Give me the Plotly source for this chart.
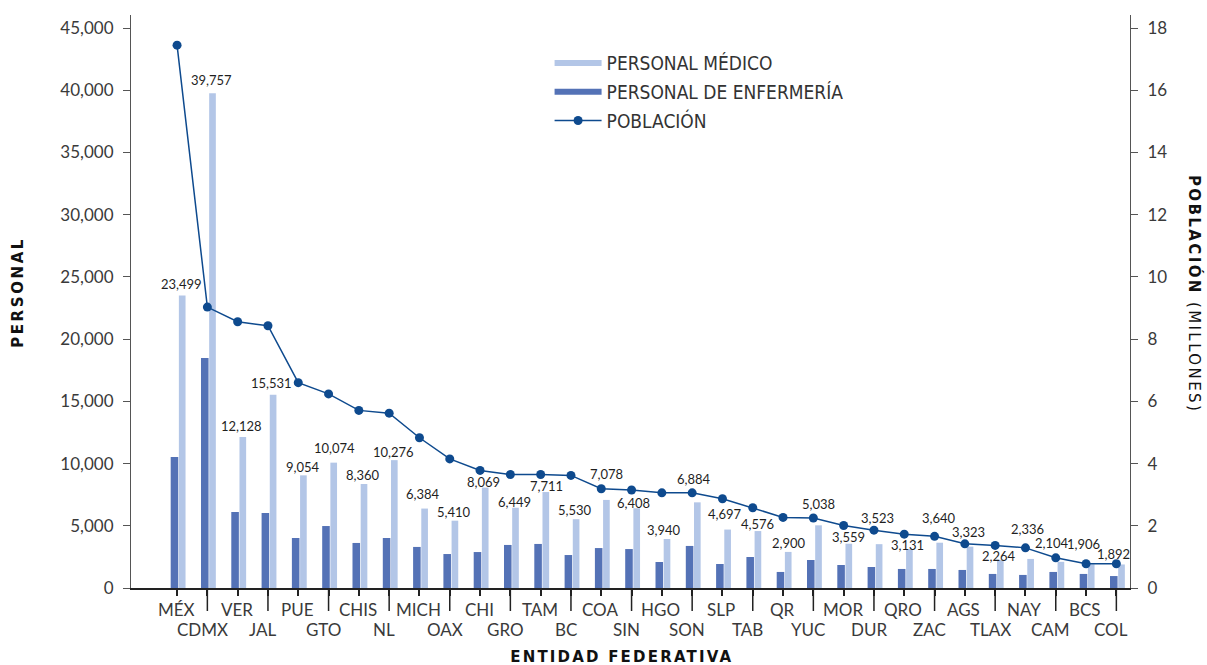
import plotly.graph_objects as go

# ---------------- data ----------------
estados = ["MÉX", "CDMX", "VER", "JAL", "PUE", "GTO", "CHIS", "NL", "MICH", "OAX",
           "CHI", "GRO", "TAM", "BC", "COA", "SIN", "HGO", "SON", "SLP", "TAB",
           "QR", "YUC", "MOR", "DUR", "QRO", "ZAC", "AGS", "TLAX", "NAY", "CAM",
           "BCS", "COL"]

personal_medico = [23499, 39757, 12128, 15531, 9054, 10074, 8360, 10276, 6384, 5410,
                   8069, 6449, 7711, 5530, 7078, 6408, 3940, 6884, 4697, 4576,
                   2900, 5038, 3559, 3523, 3131, 3640, 3323, 2264, 2336, 2104,
                   1906, 1892]

personal_enfermeria = [10530, 18480, 6110, 6030, 4020, 4980, 3620, 4020, 3300, 2730,
                       2890, 3460, 3540, 2650, 3210, 3130, 2090, 3380, 1930, 2490,
                       1290, 2250, 1850, 1690, 1530, 1530, 1450, 1130, 1050, 1290,
                       1130, 960]

poblacion_millones = [17.45, 9.03, 8.56, 8.43, 6.60, 6.24, 5.71, 5.62, 4.83, 4.15,
                      3.78, 3.65, 3.65, 3.62, 3.19, 3.15, 3.06, 3.06, 2.87, 2.58,
                      2.27, 2.25, 2.01, 1.86, 1.73, 1.66, 1.42, 1.37, 1.29, 0.97,
                      0.78, 0.78]

y_left_ticks = [0, 5000, 10000, 15000, 20000, 25000, 30000, 35000, 40000, 45000]
y_right_ticks = [0, 2, 4, 6, 8, 10, 12, 14, 16, 18]

# ---------------- style ----------------
C_LIGHT = "#B3C6E7"
C_DARK = "#5472B6"
C_LINE = "#0E4A8E"
C_TEXT = "#3a3a3a"
FONT = "Lato, 'Open Sans', sans-serif"
FONT_BOLD = "'DejaVu Sans', Lato, sans-serif"
PLOT_H = 573  # plot-area height in px (used for paper-relative offsets)

# label placement tweaks (pixels): vertical offset above bar top, horizontal nudge
label_dy = [11.6, 13, 11, 11.7, 8.6, 15, 8.7, 8.4, 14.6, 9,
            5.6, 5.7, 6.3, 9.2, 26, 5.6, 9, 23.6, 15.6, 7,
            8.6, 21, 6.4, 26.5, 4.3, 24.4, 14.6, 4.1, 29.6, 19,
            20, 10.5]
label_dx = [-0.4, -0.5, -1.5, -1.7, -0.3, 0.5, -0.7, -0.7, -1.8, -1,
            -1.7, -0.9, 0.7, -1.3, 0, -3.5, -3, -3.3, -2, 0.2,
            1, 0, 0, -1, -1.5, -0.3, -1, -1, -3, -9,
            -7.7, -8.3]

fig = go.Figure()

fig.add_trace(go.Bar(
    x=estados, y=personal_enfermeria, name="PERSONAL DE ENFERMERÍA",
    marker=dict(color=C_DARK, line=dict(width=0)),
    offset=-0.21, width=0.25, showlegend=False, hoverinfo="skip"))
fig.add_trace(go.Bar(
    x=estados, y=personal_medico, name="PERSONAL MÉDICO",
    marker=dict(color=C_LIGHT, line=dict(width=0)),
    offset=0.06, width=0.22, showlegend=False, hoverinfo="skip"))

# legend-only entries mimicking the wide flat swatches
fig.add_trace(go.Scatter(x=[None], y=[None], mode="lines", name="PERSONAL MÉDICO",
                         line=dict(color=C_LIGHT, width=6), legendgroup="a"))
fig.add_trace(go.Scatter(x=[None], y=[None], mode="lines", name="PERSONAL DE ENFERMERÍA",
                         line=dict(color=C_DARK, width=6), legendgroup="b"))

fig.add_trace(go.Scatter(
    x=estados, y=poblacion_millones, name="POBLACIÓN", yaxis="y2",
    mode="lines+markers", line=dict(color=C_LINE, width=1.5),
    marker=dict(color=C_LINE, size=9), legendgroup="c", hoverinfo="skip"))

annotations = []
for i, (e, v) in enumerate(zip(estados, personal_medico)):
    annotations.append(dict(
        x=e, y=v, xref="x", yref="y", text=f"{v:,}", showarrow=False,
        xanchor="center", yanchor="middle", xshift=5 + label_dx[i], yshift=label_dy[i],
        font=dict(family=FONT, size=13, color="#1f1f1f")))

# staggered category labels (upper row: even, lower row: odd)
for i, e in enumerate(estados):
    lower = i % 2 == 1
    annotations.append(dict(
        x=e, y=-(41 if lower else 21) / PLOT_H, xref="x", yref="paper", text=e,
        showarrow=False, xanchor="center", yanchor="middle",
        xshift=-5 if lower else -1,
        font=dict(family=FONT, size=17, color=C_TEXT)))

# axis titles
annotations.append(dict(x=-0.113, y=0.516, xref="paper", yref="paper", text="<b>PERSONAL</b>",
                        textangle=-90, showarrow=False, xanchor="center", yanchor="middle",
                        font=dict(family=FONT_BOLD, size=15, color="#111")))
annotations.append(dict(x=1.0646, y=0.514, xref="paper", yref="paper",
                        text="<b>POBLACIÓN</b> (MILLONES)", textangle=90, showarrow=False,
                        xanchor="center", yanchor="middle",
                        font=dict(family=FONT_BOLD, size=15, color="#111")))
annotations.append(dict(x=0.4915, y=-0.1204, xref="paper", yref="paper",
                        text="<b>ENTIDAD FEDERATIVA</b>", showarrow=False,
                        xanchor="center", yanchor="middle",
                        font=dict(family=FONT_BOLD, size=15, color="#111")))

# long ticks separating staggered labels
shapes = []
for i, e in enumerate(estados):
    if i % 2 == 1:
        shapes.append(dict(type="line", xref="x", yref="paper", x0=e, x1=e,
                           y0=0, y1=-23 / PLOT_H, line=dict(color="#222", width=1.5)))

fig.update_layout(
    width=1207, height=665, autosize=False,
    margin=dict(l=131, r=77, t=15, b=77),
    paper_bgcolor="white", plot_bgcolor="white",
    barmode="overlay",
    showlegend=True,
    legend=dict(x=0.419, y=0.949, xanchor="left", yanchor="top",
                traceorder="grouped", tracegroupgap=1,
                itemwidth=47,
                font=dict(family="'Liberation Sans Narrow', 'DejaVu Sans Condensed', sans-serif",
                          size=19, color="#333"),
                bgcolor="rgba(0,0,0,0)"),
    xaxis=dict(type="category", range=[-1.52, 31.45],
               tickmode="array", tickvals=estados, showticklabels=False,
               ticks="outside", ticklen=6, tickwidth=1.5, tickcolor="#222",
               showline=True, linecolor="#222", linewidth=1.5,
               showgrid=False, zeroline=False),
    yaxis=dict(range=[0, 46050], tickmode="array", tickvals=y_left_ticks,
               tickformat=",", ticks="outside", ticklen=7, tickcolor="#555", tickwidth=1,
               showline=True, linecolor="#555", linewidth=1.2,
               showgrid=False, zeroline=False, ticklabelstandoff=6,
               tickfont=dict(family=FONT, size=17, color=C_TEXT)),
    yaxis2=dict(range=[0, 18.42], overlaying="y", side="right",
                tickmode="array", tickvals=y_right_ticks,
                ticks="outside", ticklen=7, tickcolor="#555", tickwidth=1,
                showline=True, linecolor="#555", linewidth=1.2,
                showgrid=False, zeroline=False, ticklabelstandoff=6,
                tickfont=dict(family=FONT, size=17, color=C_TEXT)),
    annotations=annotations,
    shapes=shapes,
)

post_js = """
(function(){
  var gd = document.getElementById('{plot_id}');
  function space(){
    gd.querySelectorAll('.annotation-text').forEach(function(t){
      var s = t.textContent;
      if (s === 'PERSONAL') { t.style.letterSpacing = '2.6px'; }
      else if (s === 'ENTIDAD FEDERATIVA') { t.style.letterSpacing = '2.2px'; }
      else if (s.indexOf('POBLACIÓN (') === 0) { t.style.letterSpacing = '2.4px'; }
    });
  }
  space();
  if (gd.on) { gd.on('plotly_afterplot', space); }
})();
"""

fig.write_html("out.html", post_script=post_js)
